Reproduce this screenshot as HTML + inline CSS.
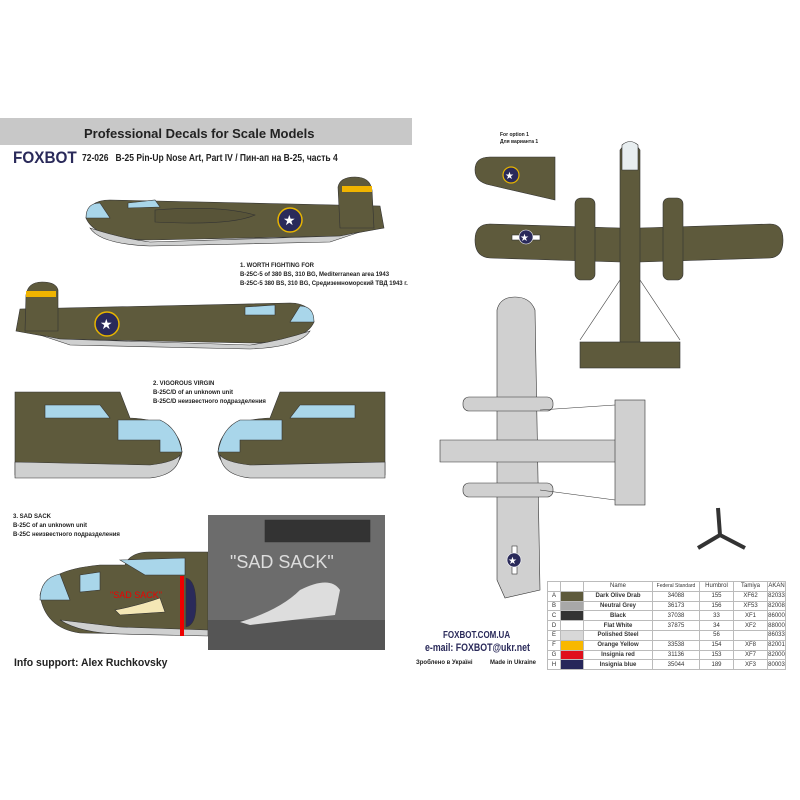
<!DOCTYPE html>
<html><head><meta charset="utf-8"><style>
body{margin:0;background:#fff;width:800px;height:800px;overflow:hidden;position:relative;font-family:"Liberation Sans",sans-serif}
.a{position:absolute;white-space:nowrap}
.c{font-family:"Liberation Sans Narrow","Liberation Sans",sans-serif;font-weight:bold;transform-origin:left top}
table{border-collapse:collapse;font-size:6px;table-layout:fixed}
td{border:1px solid #bbb;height:8.8px;padding:0;text-align:center;color:#333;white-space:nowrap;overflow:hidden;line-height:8px}
</style></head><body>
<div class="a" style="left:0;top:118px;width:412px;height:27px;background:#c8c8c8"></div>
<div class="a" style="left:84px;top:126px;font-size:13px;font-weight:bold;color:#222">Professional Decals for Scale Models</div>
<div class="a c" style="left:13px;top:148px;font-size:17px;color:#2a2a5a;transform:scaleX(.9)">FOXBOT</div>
<div class="a c" style="left:82px;top:153px;font-size:10px;color:#222;transform:scaleX(.85)">72-026 &nbsp; B-25 Pin-Up Nose Art, Part IV / Пин-ап на В-25, часть 4</div>
<svg class="a" style="left:0;top:0" width="800" height="800">
<g stroke="#333" stroke-width=".6">
<!-- plane 1 -->
<path d="M86,218 Q88,200 110,200 L380,206 L384,228 L340,236 L150,240 Q95,240 86,218Z" fill="#5e5a3c"/>
<path d="M90,228 Q120,238 150,242 L340,236 L360,232 L330,242 L150,246 Q100,244 90,228Z" fill="#cfd0d0"/>
<path d="M338,187 Q340,177 355,177 Q370,177 372,190 L374,228 L340,228Z" fill="#5e5a3c"/>
<rect x="342" y="186" width="30" height="6" fill="#f0b400" stroke="none"/>
<path d="M86,218 Q86,203 100,203 L110,218Z" fill="#a9d6ea"/>
<path d="M128,203 L155,200 L160,207 L128,208Z" fill="#a9d6ea"/>
<circle cx="290" cy="220" r="12" fill="#2a2a5a" stroke="#e6b400" stroke-width="1.5"/>
<text x="283" y="225" font-size="14" fill="#fff" stroke="none">★</text>
<path d="M155,210 Q220,205 255,215 Q230,226 155,222Z" fill="#585438"/>
<!-- plane 2 -->
<path d="M314,322 Q312,303 290,303 L20,309 L16,331 L60,339 L250,343 Q305,343 314,322Z" fill="#5e5a3c"/>
<path d="M310,331 Q280,341 250,345 L60,339 L40,335 L70,345 L250,349 Q300,347 310,331Z" fill="#cfd0d0"/>
<path d="M58,290 Q56,282 42,282 Q28,282 26,295 L25,331 L58,331Z" fill="#5e5a3c"/>
<rect x="26" y="291" width="30" height="6" fill="#f0b400" stroke="none"/>
<path d="M314,322 Q314,306 300,306 L290,322Z" fill="#a9d6ea"/>
<path d="M245,307 L275,305 L275,315 L245,315Z" fill="#a9d6ea"/>
<circle cx="107" cy="324" r="12" fill="#2a2a5a" stroke="#e6b400" stroke-width="1.5"/>
<text x="100" y="329" font-size="14" fill="#fff" stroke="none">★</text>
<!-- nose profiles -->
<path d="M15,392 L120,392 L130,418 Q180,420 182,452 Q180,470 150,472 L15,475Z" fill="#5e5a3c"/>
<path d="M15,462 L150,465 Q175,462 180,455 Q178,475 150,478 L15,478Z" fill="#cfd0d0"/>
<path d="M45,405 L100,405 L110,418 L45,418Z M118,420 L160,420 Q178,428 182,452 L160,452 L160,440 L118,440Z" fill="#a9d6ea"/>
<path d="M385,392 L280,392 L270,418 Q220,420 218,452 Q220,470 250,472 L385,475Z" fill="#5e5a3c"/>
<path d="M385,462 L250,465 Q225,462 220,455 Q222,475 250,478 L385,478Z" fill="#cfd0d0"/>
<path d="M355,405 L300,405 L290,418 L355,418Z M282,420 L240,420 Q222,428 218,452 L240,452 L240,440 L282,440Z" fill="#a9d6ea"/>
<!-- sad sack -->
<path d="M40,595 Q45,570 100,565 L125,565 Q130,552 150,552 L208,552 L208,635 L80,633 Q45,628 40,595Z" fill="#5e5a3c"/>
<path d="M60,620 Q80,633 120,634 L208,636 L208,630 L120,627Z" fill="#cfd0d0"/>
<path d="M40,600 Q40,578 60,574 L70,600Z M120,560 L185,558 L185,575 L145,575Z M80,575 L100,572 L100,590 L80,592Z" fill="#a9d6ea"/>
<rect x="180" y="576" width="4" height="60" fill="#e00" stroke="none"/>
<path d="M186,578 Q196,580 196,605 Q196,625 186,627Z" fill="#2a2a5a"/>
<text x="110" y="598" font-size="9" fill="#e00" stroke="none" font-family="Liberation Sans">"SAD SACK"</text>
<path d="M115,610 Q140,605 160,598 L165,612 L120,615Z" fill="#f4e7b5"/>
<!-- photo -->
<rect x="208" y="515" width="177" height="135" fill="#6c6c6c" stroke="none"/>
<rect x="208" y="620" width="177" height="30" fill="#555" stroke="none"/>
<path d="M265,520 L370,520 L370,542 L265,542Z" fill="#333"/>
<text x="230" y="568" font-size="18" fill="#ddd" stroke="none">"SAD SACK"</text>
<path d="M240,622 Q280,610 300,590 Q330,575 340,590 L335,615 L250,625Z" fill="#ddd" stroke="none"/>
<!-- top view -->
<path d="M475,240 Q475,224 490,224 L620,228 L640,228 L770,224 Q783,224 783,240 Q783,257 770,258 L640,262 L620,262 L490,258 Q475,257 475,240Z" fill="#5e5a3c"/>
<path d="M620,150 Q630,136 640,150 L640,365 L620,365Z" fill="#5e5a3c"/>
<rect x="580" y="342" width="100" height="26" fill="#5e5a3c"/>
<rect x="575" y="198" width="20" height="82" rx="6" fill="#5e5a3c"/>
<rect x="663" y="198" width="20" height="82" rx="6" fill="#5e5a3c"/>
<path d="M622,145 Q630,138 638,145 L638,170 L622,170Z" fill="#e8eef0"/>
<path d="M475,170 Q475,157 490,157 L555,157 L555,200 L490,185 Q475,182 475,170Z" fill="#5e5a3c"/>
<circle cx="511" cy="175" r="8" fill="#2a2a5a" stroke="#e6b400" stroke-width="1.2"/>
<text x="505" y="179" font-size="10" fill="#fff" stroke="none">★</text>
<rect x="512" y="235" width="28" height="5" fill="#fff"/>
<circle cx="526" cy="237" r="7" fill="#2a2a5a" stroke="#fff"/>
<text x="520" y="241" font-size="10" fill="#fff" stroke="none">★</text>
<line x1="620" y1="280" x2="580" y2="340"/><line x1="640" y1="280" x2="680" y2="340"/>
<!-- bottom view -->
<path d="M497,310 Q500,297 515,297 Q530,297 535,310 L540,590 L505,598 L497,580Z" fill="#d0d0d0"/>
<path d="M440,440 L630,440 Q650,450 630,462 L440,462Z" fill="#d0d0d0"/>
<rect x="615" y="400" width="30" height="105" fill="#d0d0d0"/>
<rect x="463" y="397" width="90" height="14" rx="6" fill="#d0d0d0"/>
<rect x="463" y="483" width="90" height="14" rx="6" fill="#d0d0d0"/>
<line x1="540" y1="410" x2="615" y2="405"/><line x1="540" y1="490" x2="615" y2="500"/>
<rect x="512" y="546" width="5" height="28" fill="#fff"/>
<circle cx="514" cy="560" r="7" fill="#2a2a5a" stroke="#fff"/>
<text x="508" y="564" font-size="10" fill="#fff" stroke="none">★</text>
<!-- prop -->
<path d="M718,508 L720,535 L698,548 M720,535 L745,548" stroke="#333" stroke-width="4" fill="none"/>
</g>
</svg>
<div class="a c" style="left:240px;top:262px;font-size:6px;line-height:9px;color:#222">1. WORTH FIGHTING FOR<br>B-25C-5 of 380 BS, 310 BG, Mediterranean area 1943<br>B-25C-5 380 BS, 310 BG, Средиземноморский ТВД 1943 г.</div>
<div class="a c" style="left:153px;top:380px;font-size:6px;line-height:9px;color:#222">2. VIGOROUS VIRGIN<br>B-25C/D of an unknown unit<br>B-25C/D неизвестного подразделения</div>
<div class="a c" style="left:13px;top:513px;font-size:6px;line-height:9px;color:#222">3. SAD SACK<br>B-25C of an unknown unit<br>B-25C неизвестного подразделения</div>
<div class="a c" style="left:14px;top:657px;font-size:11px;color:#222;transform:scaleX(.95)">Info support: Alex Ruchkovsky</div>
<div class="a c" style="left:443px;top:630px;font-size:10px;color:#2a2a5a;transform:scaleX(.8)">FOXBOT.COM.UA</div>
<div class="a c" style="left:425px;top:642px;font-size:11px;color:#2a2a5a;transform:scaleX(.8)">e-mail: FOXBOT@ukr.net</div>
<div class="a c" style="left:416px;top:660px;font-size:6px;color:#222">Зроблено в Україні</div>
<div class="a c" style="left:490px;top:660px;font-size:6px;color:#222">Made in Ukraine</div>
<div class="a c" style="left:500px;top:132px;font-size:5px;line-height:7px;color:#222">For option 1<br>Для варианта 1</div>
<table class="a" style="left:547px;top:581px;width:239px">
<tr><td style="width:12px"></td><td style="width:22px"></td><td style="width:68px">Name</td><td style="width:46px;font-size:5px">Federal Standard</td><td style="width:33px">Humbrol</td><td style="width:33px">Tamiya</td><td>AKAN</td></tr>
<tr><td>A</td><td style="background:#5e5a3c"></td><td><b>Dark Olive Drab</b></td><td>34088</td><td>155</td><td>XF62</td><td>82033</td></tr>
<tr><td>B</td><td style="background:#a8a8a8"></td><td><b>Neutral Grey</b></td><td>36173</td><td>156</td><td>XF53</td><td>82008</td></tr>
<tr><td>C</td><td style="background:#333"></td><td><b>Black</b></td><td>37038</td><td>33</td><td>XF1</td><td>86000</td></tr>
<tr><td>D</td><td style="background:#fff"></td><td><b>Flat White</b></td><td>37875</td><td>34</td><td>XF2</td><td>88000</td></tr>
<tr><td>E</td><td style="background:#d8d8d8"></td><td><b>Polished Steel</b></td><td></td><td>56</td><td></td><td>86033</td></tr>
<tr><td>F</td><td style="background:#f8b800"></td><td><b>Orange Yellow</b></td><td>33538</td><td>154</td><td>XF8</td><td>82001</td></tr>
<tr><td>G</td><td style="background:#e0101c"></td><td><b>Insignia red</b></td><td>31136</td><td>153</td><td>XF7</td><td>82000</td></tr>
<tr><td>H</td><td style="background:#26265a"></td><td><b>Insignia blue</b></td><td>35044</td><td>189</td><td>XF3</td><td>80003</td></tr>
</table>
</body></html>
